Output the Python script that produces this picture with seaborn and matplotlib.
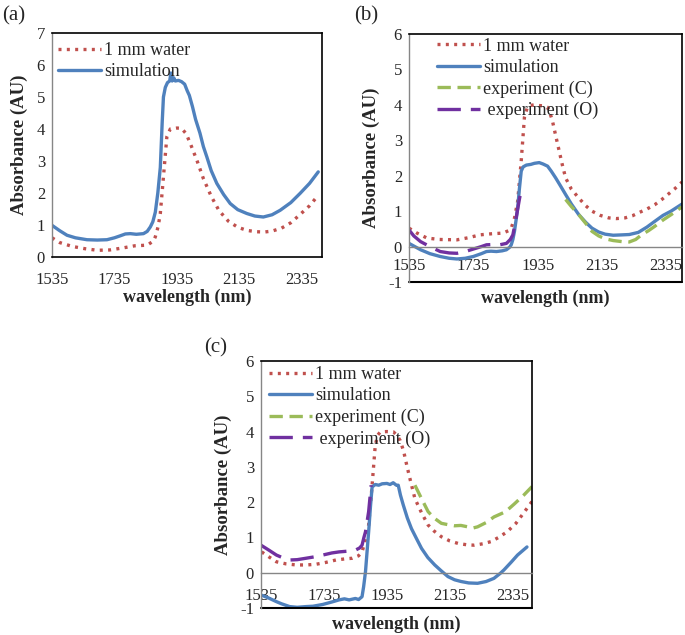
import numpy as np
import pandas as pd
import seaborn as sns
import matplotlib.pyplot as plt

# ---- panel (a) ----
a_water_wl = [1535, 1560, 1600, 1640, 1680, 1720, 1760, 1800, 1840, 1860, 1866, 1875, 1882, 1892,
              1903, 1914, 1935, 1950, 1965, 1980, 2000, 2020, 2045, 2070, 2100, 2130, 2160, 2190,
              2215, 2240, 2270, 2300, 2330, 2360, 2388]
a_water = [0.6, 0.45, 0.33, 0.26, 0.21, 0.22, 0.28, 0.35, 0.37, 0.5, 0.63, 0.95, 1.36, 2.5,
           3.76, 4.0, 4.03, 4.02, 3.85, 3.5, 3.0, 2.45, 1.9, 1.45, 1.12, 0.93, 0.83, 0.79,
           0.78, 0.81, 0.9, 1.07, 1.33, 1.6, 1.93]
a_sim_wl = [1535, 1560, 1583, 1610, 1647, 1680, 1711, 1735, 1753, 1770, 1786, 1805, 1828, 1840,
            1850, 1858, 1866, 1874, 1882, 1888, 1892, 1898, 1905, 1912, 1916, 1920, 1925, 1930,
            1940, 1950, 1960, 1968, 1975, 1985, 1995, 2009, 2020, 2031, 2045, 2063, 2085, 2106,
            2130, 2159, 2185, 2212, 2240, 2266, 2300, 2330, 2360, 2388]
a_sim = [0.99, 0.82, 0.68, 0.6, 0.54, 0.53, 0.54, 0.6, 0.66, 0.72, 0.73, 0.71, 0.73, 0.8,
         0.94, 1.1, 1.4, 2.0, 2.8, 4.2, 5.0, 5.3, 5.45, 5.5, 5.75, 5.5, 5.6, 5.5,
         5.52, 5.48, 5.4, 5.2, 5.05, 4.7, 4.3, 3.87, 3.45, 3.13, 2.7, 2.3, 1.95, 1.67,
         1.48, 1.36, 1.28, 1.25, 1.32, 1.46, 1.7, 1.99, 2.3, 2.66]

# ---- panel (b) ----
b_water_wl = [1535, 1560, 1591, 1630, 1684, 1720, 1755, 1790, 1827, 1845, 1853, 1863, 1873, 1884,
              1894, 1902, 1909, 1925, 1940, 1955, 1966, 1974, 1981, 1992, 2002, 2012, 2022, 2040,
              2063, 2085, 2104, 2130, 2156, 2180, 2207, 2230, 2248, 2275, 2299, 2320, 2340, 2360, 2384]
b_water = [0.52, 0.38, 0.24, 0.2, 0.19, 0.25, 0.33, 0.36, 0.38, 0.45, 0.52, 0.8, 1.28, 2.42,
           3.65, 3.9, 3.98, 4.0, 3.98, 3.97, 3.93, 3.75, 3.55, 3.1, 2.7, 2.3, 1.94, 1.62,
           1.37, 1.15, 1.0, 0.88, 0.81, 0.79, 0.81, 0.87, 0.95, 1.06, 1.18, 1.32, 1.47, 1.62, 1.82]
b_sim_wl = [1535, 1571, 1600, 1632, 1660, 1684, 1710, 1735, 1760, 1776, 1790, 1807, 1825, 1838,
            1848, 1853, 1858, 1863, 1868, 1873, 1878, 1884, 1890, 1900, 1914, 1925, 1940, 1952,
            1966, 1978, 1991, 2005, 2022, 2040, 2063, 2085, 2104, 2125, 2145, 2170, 2197, 2220,
            2248, 2275, 2299, 2325, 2350, 2384]
b_sim = [0.09, -0.09, -0.2, -0.28, -0.33, -0.35, -0.33, -0.28, -0.2, -0.14, -0.13, -0.14, -0.12, -0.09,
         -0.02, 0.05, 0.2, 0.43, 0.75, 1.09, 1.6, 2.13, 2.25, 2.3, 2.32, 2.35, 2.37, 2.33,
         2.27, 2.12, 1.94, 1.73, 1.47, 1.2, 0.9, 0.68, 0.52, 0.41, 0.35, 0.32, 0.33, 0.34,
         0.4, 0.55, 0.71, 0.88, 1.0, 1.2]
b_expc_wl = [2022, 2040, 2063, 2085, 2104, 2125, 2145, 2170, 2197, 2220, 2240, 2258, 2280, 2299,
             2325, 2350, 2384]
b_expc = [1.33, 1.13, 0.9, 0.65, 0.43, 0.3, 0.22, 0.17, 0.14, 0.13, 0.2, 0.33, 0.45, 0.57,
          0.75, 0.9, 1.12]
b_expo_wl = [1535, 1550, 1571, 1600, 1632, 1660, 1684, 1710, 1735, 1760, 1776, 1800, 1817, 1838,
             1850, 1858, 1868, 1879, 1887]
b_expo = [0.47, 0.3, 0.14, 0.0, -0.14, -0.18, -0.19, -0.14, -0.07, 0.0, 0.05, 0.06, 0.05, 0.09,
          0.2, 0.33, 0.8, 1.37, 1.7]

# ---- panel (c) ----
c_water_wl = [1537, 1560, 1584, 1615, 1647, 1680, 1710, 1740, 1773, 1800, 1825, 1845, 1856, 1866,
              1877, 1888, 1898, 1906, 1914, 1935, 1956, 1966, 1977, 1988, 1998, 2010, 2024, 2045,
              2066, 2085, 2108, 2135, 2161, 2190, 2213, 2240, 2265, 2290, 2317, 2345, 2370, 2396]
c_water = [0.59, 0.45, 0.31, 0.25, 0.22, 0.22, 0.24, 0.29, 0.36, 0.39, 0.41, 0.48, 0.59, 0.9,
           1.35, 2.48, 3.61, 3.9, 3.99, 4.0, 3.99, 3.9, 3.75, 3.45, 3.05, 2.6, 2.1, 1.7,
           1.35, 1.18, 1.02, 0.9, 0.83, 0.79, 0.78, 0.82, 0.88, 1.0, 1.16, 1.4, 1.7, 2.02]
c_sim_wl = [1535, 1560, 1584, 1600, 1626, 1650, 1678, 1700, 1731, 1760, 1783, 1800, 1815, 1835,
            1845, 1856, 1861, 1867, 1872, 1877, 1883, 1888, 1898, 1909, 1920, 1935, 1945, 1955,
            1965, 1971, 1978, 1987, 2000, 2013, 2030, 2045, 2065, 2087, 2108, 2129, 2150, 2171,
            2195, 2223, 2250, 2275, 2295, 2307, 2330, 2350, 2380]
c_sim = [-0.63, -0.72, -0.82, -0.88, -0.96, -0.98, -0.96, -0.95, -0.9, -0.83, -0.77, -0.74, -0.77, -0.73,
         -0.76, -0.68, -0.4, 0.03, 0.6, 1.16, 1.9, 2.43, 2.5, 2.48, 2.52, 2.53, 2.5, 2.55,
         2.48, 2.48, 2.2, 1.92, 1.55, 1.25, 0.95, 0.69, 0.43, 0.22, 0.05, -0.11, -0.2, -0.25,
         -0.29, -0.3, -0.25, -0.16, -0.02, 0.08, 0.3, 0.5, 0.73]
c_expc_wl = [2024, 2045, 2066, 2085, 2108, 2130, 2150, 2170, 2192, 2210, 2223, 2250, 2275, 2300,
             2312, 2340, 2370, 2396]
c_expc = [2.48, 2.1, 1.73, 1.55, 1.4, 1.36, 1.33, 1.34, 1.3, 1.27, 1.3, 1.42, 1.58, 1.68,
          1.73, 1.95, 2.2, 2.44]
c_expo_wl = [1535, 1560, 1584, 1605, 1626, 1650, 1678, 1705, 1731, 1760, 1783, 1810, 1835, 1848,
             1856, 1862, 1867, 1877, 1885]
c_expo = [0.78, 0.64, 0.5, 0.42, 0.36, 0.37, 0.41, 0.45, 0.5, 0.56, 0.59, 0.61, 0.64, 0.7,
          0.78, 1.0, 1.16, 1.73, 2.48]

xticks = [1535, 1735, 1935, 2135, 2335]

RED, BLUE, GREEN, PURPLE = '#C0504D', '#4F81BD', '#9BBB59', '#7030A0'
styles = {
    '1 mm water': dict(color=RED, linestyle=(0, (0.9, 1.6)), lw=2.4),
    'simulation': dict(color=BLUE, linestyle='-', lw=2.4),
    'experiment (C)': dict(color=GREEN, linestyle=(0, (4, 2)), lw=2.4),
    ' experiment (O)': dict(color=PURPLE, linestyle=(0, (7, 3)), lw=2.4),
}

sns.set_style('white')
plt.rcParams['font.family'] = ['Liberation Serif', 'DejaVu Serif']
plt.rcParams['axes.unicode_minus'] = False

fig = plt.figure(figsize=(6.85, 6.35), dpi=100)
W, H = 685, 635


def add_axes(l, t, r, b):
    return fig.add_axes([l / W, 1 - b / H, (r - l) / W, (b - t) / H])


def draw(ax, series, xlim, ylim, legend_xy, xpad):
    for name, wl, vals in series:
        df = pd.DataFrame({'wl': wl, 'abs': vals})
        sns.lineplot(data=df, x='wl', y='abs', ax=ax, label=name, **styles[name])
    ax.set_xlim(*xlim)
    ax.set_ylim(*ylim)
    ax.set_xticks(xticks)
    ax.set_yticks(range(ylim[0], ylim[1] + 1))
    ax.set_xlabel('wavelength (nm)', fontsize=13, fontweight='bold', labelpad=0)
    ax.set_ylabel('Absorbance (AU)', fontsize=13.5, fontweight='bold', labelpad=6)
    ax.tick_params(axis='both', labelsize=12, direction='out', length=3, width=0.8,
                   color='#868686', pad=2)
    ax.tick_params(axis='x', pad=xpad)
    for s in ['top', 'right']:
        ax.spines[s].set_color('black')
        ax.spines[s].set_linewidth(1.2)
    ax.spines['left'].set_color('#868686')
    ax.spines['left'].set_linewidth(1.0)
    if ylim[0] < 0:
        ax.spines['bottom'].set_position(('data', 0))
        ax.spines['bottom'].set_color('#868686')
        ax.spines['bottom'].set_linewidth(1.0)
        ax.plot([0, 1], [0, 0], transform=ax.transAxes, color='black', lw=1.5, clip_on=False)
        ax.xaxis.set_label_coords(0.5, -0.03, transform=ax.transAxes)
        ax.xaxis.label.set_va('top')
    else:
        ax.spines['bottom'].set_color('black')
        ax.spines['bottom'].set_linewidth(1.2)
    ax.legend(loc='upper left', bbox_to_anchor=legend_xy, frameon=False, fontsize=13,
              handlelength=2.4, handletextpad=0.15, labelspacing=0.24, borderpad=0,
              borderaxespad=0)


ax_a = add_axes(52, 33, 322, 257)
draw(ax_a, [('1 mm water', a_water_wl, a_water), ('simulation', a_sim_wl, a_sim)],
     (1535, 2400), (0, 7), (0.022, 0.96), 8)

ax_b = add_axes(409, 34, 682, 282)
draw(ax_b, [('1 mm water', b_water_wl, b_water), ('simulation', b_sim_wl, b_sim),
            ('experiment (C)', b_expc_wl, b_expc), (' experiment (O)', b_expo_wl, b_expo)],
     (1535, 2384), (-1, 6), (0.103, 0.985), 5)

ax_c = add_axes(261, 361, 532, 608)
draw(ax_c, [('1 mm water', c_water_wl, c_water), ('simulation', c_sim_wl, c_sim),
            ('experiment (C)', c_expc_wl, c_expc), (' experiment (O)', c_expo_wl, c_expo)],
     (1535, 2396), (-1, 6), (0.03, 0.98), 8)

for lbl, x, y in [('(a)', 2, 16), ('(b)', 354, 16), ('(c)', 204, 348)]:
    fig.text(x / W, 1 - y / H, lbl, fontsize=15, va='center', ha='left')

fig.savefig('out.png', dpi=100)
